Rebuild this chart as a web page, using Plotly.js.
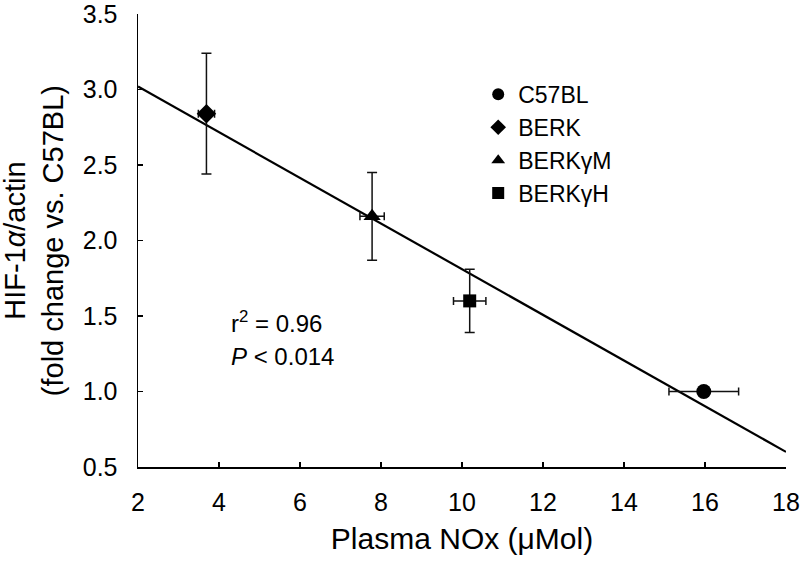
<!DOCTYPE html>
<html>
<head>
<meta charset="utf-8">
<script src="https://cdn.plot.ly/plotly-3.0.1.min.js"></script>
<style>html,body{margin:0;padding:0;background:#fff;}#chart{width:800px;height:562px;}</style>
</head>
<body>
<div id="chart"></div>
<script>
// Data
const groups = ["C57BL", "BERK", "BERKγM", "BERKγH"];
const symbols = ["circle", "diamond", "triangle-up", "square"];
const noxMean = [15.97, 3.69, 7.78, 10.19];
const noxErr = [0.86, 0.2, 0.3, 0.4];
const hifMean = [1.00, 2.84, 2.16, 1.60];
const hifErr = [0.02, 0.40, 0.29, 0.21];
const fitX = [2, 18];
const fitY = [3.02, 0.60];
const xTicks = [2, 4, 6, 8, 10, 12, 14, 16, 18];
const yTicks = [0.5, 1.0, 1.5, 2.0, 2.5, 3.0, 3.5];
const yTitle = "HIF-1<i>α</i>/actin<br>(fold change vs. C57BL)";
const statsText = ["r<sup>2</sup> = 0.96", "<i>P</i> < 0.014"];

const FONT = "Liberation Sans, Arial, sans-serif";

const traces = [{
  x: fitX, y: fitY, mode: "lines", showlegend: false, hoverinfo: "skip",
  line: {color: "#000", width: 2.2}
}];
groups.forEach((g, i) => {
  traces.push({
    x: [noxMean[i]], y: [hifMean[i]], name: g, mode: "markers", type: "scatter",
    marker: {symbol: symbols[i], size: symbols[i] === "square" ? 13 : 15, color: "#000"},
    error_x: {type: "data", array: [noxErr[i]], visible: true, color: "#111", thickness: 1.5, width: 4},
    error_y: {type: "data", array: [hifErr[i]], visible: true, color: "#111", thickness: 1.5, width: 5}
  });
});

const layout = {
  width: 800, height: 562,
  margin: {l: 138, r: 14, t: 14, b: 95},
  paper_bgcolor: "#fff", plot_bgcolor: "#fff",
  font: {family: FONT, color: "#000", size: 24},
  showlegend: true,
  legend: {x: 0.525, y: 0.87, xanchor: "left", yanchor: "top", font: {size: 23, family: FONT},
           bgcolor: "rgba(0,0,0,0)", tracegroupgap: 0, itemsizing: "constant"},
  xaxis: {
    range: [2, 18], tickvals: xTicks, ticktext: xTicks.map(String),
    showline: true, linecolor: "#000", linewidth: 1.5, mirror: false,
    ticks: "inside", ticklen: 5, tickcolor: "#000", tickwidth: 1.2,
    showgrid: false, zeroline: false, ticklabelstandoff: 12, ticklabeloverflow: "allow",
    tickfont: {size: 25, family: FONT},
    title: {text: "Plasma NOx (μMol)", font: {size: 30, family: FONT}, standoff: 13}
  },
  yaxis: {
    range: [0.5, 3.5], tickvals: yTicks, ticktext: yTicks.map(v => v.toFixed(1)),
    showline: true, linecolor: "#000", linewidth: 1.5, mirror: false,
    ticks: "inside", ticklen: 5, tickcolor: "#000", tickwidth: 1.2,
    showgrid: false, zeroline: false, ticklabelstandoff: 14, ticklabeloverflow: "allow",
    tickfont: {size: 25, family: FONT}
  },
  annotations: [
    {xref: "paper", yref: "paper", x: -0.161, y: 0.5, xanchor: "center", yanchor: "middle", textangle: -90,
     text: yTitle, showarrow: false, font: {size: 29, family: FONT}},
    {xref: "x", yref: "y", x: 4.24, y: 1.46, xanchor: "left", yanchor: "middle", text: statsText[0], showarrow: false, font: {size: 24, family: FONT}},
    {xref: "x", yref: "y", x: 4.24, y: 1.235, xanchor: "left", yanchor: "middle", text: statsText[1], showarrow: false, font: {size: 24, family: FONT}}
  ]
};

Plotly.newPlot("chart", traces, layout, {staticPlot: true, displayModeBar: false});
</script>
</body>
</html>
